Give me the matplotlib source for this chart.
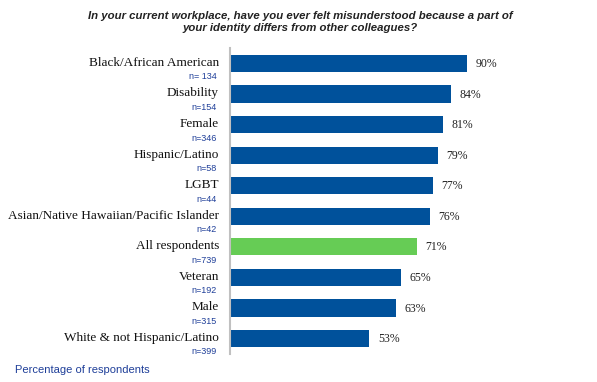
import matplotlib.pyplot as plt

categories = ["Black/African American", "Disability", "Female", "Hispanic/Latino", "LGBT",
              "Asian/Native Hawaiian/Pacific Islander", "All respondents", "Veteran", "Male",
              "White & not Hispanic/Latino"]
n_labels = ["n= 134", "n=154", "n=346", "n=58", "n=44", "n=42", "n=739", "n=192", "n=315", "n=399"]
values = [90, 84, 81, 79, 77, 76, 71, 65, 63, 53]
highlight = "All respondents"

blue = "#00519b"
green = "#66cc55"
colors = [green if c == highlight else blue for c in categories]

fig = plt.figure(figsize=(5.97, 3.82), dpi=100)
ax = fig.add_axes([230 / 597, 1 - 353.8 / 382, 367 / 597, 305.6 / 382])

ypos = list(range(len(categories)))
ax.barh(ypos, values, height=0.56, color=colors)
ax.set_xlim(0, 139.5)
ax.set_ylim(len(categories) - 0.5, -0.5)

for y, v in zip(ypos, values):
    ax.text(v + 3.3, y + 0.02, f"{v}%", va="center", ha="left",
            fontsize=8.5, family="Liberation Serif", color="#222222")

tr = ax.get_yaxis_transform()
for y, cat, n in zip(ypos, categories, n_labels):
    ax.text(-0.03, y - 0.02, cat, transform=tr, ha="right", va="center",
            fontsize=9.5, family="Liberation Serif", color="#111111")
    ax.text(-0.035, y + 0.44, n, transform=tr, ha="right", va="center",
            fontsize=6.5, family="Liberation Sans", color="#1f3f99")

for s in ["top", "right", "bottom"]:
    ax.spines[s].set_visible(False)
ax.spines["left"].set_color("#c0c0c0")
ax.spines["left"].set_linewidth(1.5)
ax.set_xticks([])
ax.set_yticks([])

fig.text(0.503, 1 - 22 / 382, "In your current workplace, have you ever felt misunderstood because a part of\nyour identity differs from other colleagues?",
         ha="center", va="center", fontsize=8.2, fontweight="bold", fontstyle="italic",
         family="Liberation Sans", color="#222222", linespacing=1.2)
fig.text(15 / 597, 1 - 370 / 382, "Percentage of respondents", ha="left", va="center",
         fontsize=8, family="Liberation Sans", color="#1f3f99")

fig.savefig("out.png", dpi=100)
